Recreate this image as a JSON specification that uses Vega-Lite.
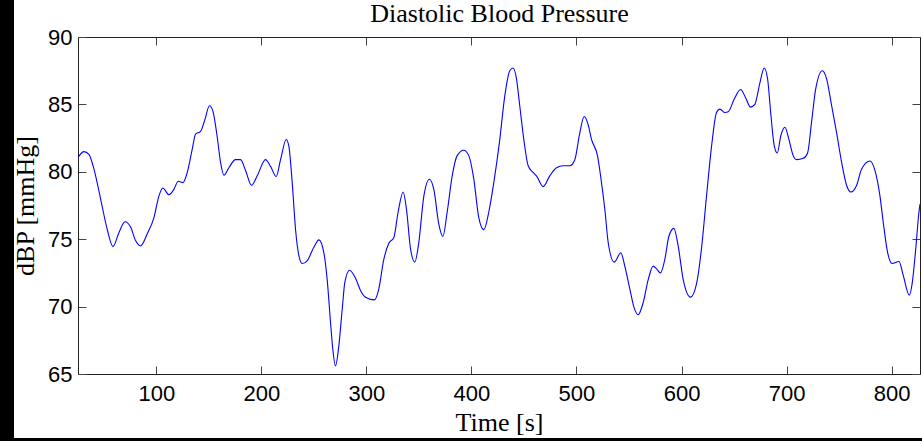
{
  "$schema": "https://vega.github.io/schema/vega-lite/v6.json",
  "width": 842,
  "height": 337,
  "autosize": "none",
  "padding": {"left": 78, "top": 37, "right": 2, "bottom": 67},
  "background": "black",
  "config": {
    "view": {"fill": "white", "stroke": "white", "strokeWidth": 128},
    "axis": {"grid": false, "domainColor": "#222", "domainWidth": 1, "tickColor": "#444", "tickWidth": 1, "tickSize": -8, "labelFont": "Liberation Sans", "labelFontSize": 22, "labelColor": "#000", "labelFlush": false, "titleFont": "Liberation Serif", "titleFontSize": 26, "titleFontWeight": "normal", "titleColor": "#000"}
  },
  "data": {"values": [
    {"t":25.8,"bp":81.1},{"t":31.2,"bp":81.5},{"t":35.9,"bp":81.3},{"t":40.7,"bp":80.2},{"t":47,"bp":78.0},{"t":53.4,"bp":75.7},{"t":58.8,"bp":74.45},{"t":64.5,"bp":75.5},{"t":70.2,"bp":76.3},{"t":75.6,"bp":75.9},{"t":80.3,"bp":74.9},{"t":85.1,"bp":74.5},{"t":91.4,"bp":75.4},{"t":97.8,"bp":76.6},{"t":102.5,"bp":78.2},{"t":106.3,"bp":78.8},{"t":112,"bp":78.3},{"t":116.8,"bp":78.7},{"t":120.9,"bp":79.3},{"t":125.4,"bp":79.2},{"t":129.5,"bp":79.95},{"t":134.3,"bp":81.7},{"t":137.4,"bp":82.8},{"t":142.2,"bp":83.0},{"t":146,"bp":83.8},{"t":150.7,"bp":84.9},{"t":153.9,"bp":84.5},{"t":158,"bp":82.6},{"t":161.2,"bp":80.7},{"t":164.4,"bp":79.75},{"t":169.1,"bp":80.3},{"t":175.5,"bp":80.9},{"t":180.2,"bp":80.9},{"t":185,"bp":80.1},{"t":190.7,"bp":79.0},{"t":196.1,"bp":79.7},{"t":204,"bp":80.9},{"t":208.8,"bp":80.4},{"t":214.2,"bp":79.65},{"t":218.3,"bp":80.9},{"t":223.7,"bp":82.4},{"t":226.2,"bp":81.9},{"t":229.4,"bp":79.2},{"t":232.6,"bp":75.7},{"t":235.7,"bp":73.8},{"t":238.9,"bp":73.2},{"t":243.6,"bp":73.4},{"t":250,"bp":74.4},{"t":254.8,"bp":74.95},{"t":259.5,"bp":74.0},{"t":262.7,"bp":72.0},{"t":265.9,"bp":68.8},{"t":268.1,"bp":66.8},{"t":270.6,"bp":65.6},{"t":273.8,"bp":67.1},{"t":277,"bp":69.8},{"t":279.5,"bp":71.8},{"t":284,"bp":72.7},{"t":289.7,"bp":72.1},{"t":294.4,"bp":71.2},{"t":299.2,"bp":70.7},{"t":307.7,"bp":70.5},{"t":311.8,"bp":71.3},{"t":316.6,"bp":73.5},{"t":321.4,"bp":74.7},{"t":326.1,"bp":75.1},{"t":330.2,"bp":77.0},{"t":335,"bp":78.5},{"t":338.2,"bp":77.2},{"t":342,"bp":74.3},{"t":346.1,"bp":73.3},{"t":349.9,"bp":74.75},{"t":354.7,"bp":78.2},{"t":360.1,"bp":79.45},{"t":364.2,"bp":78.7},{"t":369,"bp":76.1},{"t":372.8,"bp":75.2},{"t":376.9,"bp":77.0},{"t":381.7,"bp":79.7},{"t":386.4,"bp":81.2},{"t":392.7,"bp":81.6},{"t":397.5,"bp":81.2},{"t":402.2,"bp":79.5},{"t":407,"bp":76.6},{"t":411.8,"bp":75.7},{"t":416.5,"bp":77.0},{"t":421.3,"bp":79.2},{"t":426.7,"bp":82.2},{"t":431.7,"bp":85.6},{"t":436.5,"bp":87.5},{"t":439.7,"bp":87.7},{"t":442.9,"bp":86.9},{"t":446,"bp":84.9},{"t":450.2,"bp":82.2},{"t":454,"bp":80.45},{"t":458.7,"bp":79.95},{"t":461.9,"bp":79.7},{"t":468.3,"bp":78.9},{"t":474.6,"bp":79.7},{"t":481,"bp":80.3},{"t":487.3,"bp":80.45},{"t":493.7,"bp":80.45},{"t":498.4,"bp":80.9},{"t":503.2,"bp":82.9},{"t":507.3,"bp":84.1},{"t":511.1,"bp":83.5},{"t":514.3,"bp":82.4},{"t":520,"bp":81.2},{"t":523.8,"bp":79.2},{"t":527,"bp":77.2},{"t":530.2,"bp":74.75},{"t":535.9,"bp":73.3},{"t":542.2,"bp":74.0},{"t":546,"bp":73.0},{"t":550.8,"bp":71.3},{"t":554.9,"bp":69.9},{"t":558.7,"bp":69.4},{"t":563.5,"bp":70.3},{"t":568.3,"bp":72.0},{"t":573,"bp":73.0},{"t":576.2,"bp":72.8},{"t":580,"bp":72.5},{"t":584.1,"bp":73.5},{"t":587.9,"bp":75.2},{"t":592.7,"bp":75.8},{"t":596.8,"bp":74.5},{"t":601.6,"bp":72.0},{"t":608.6,"bp":70.7},{"t":614.3,"bp":71.7},{"t":619,"bp":74.3},{"t":623.8,"bp":78.2},{"t":628.6,"bp":81.9},{"t":633.3,"bp":84.4},{"t":636.5,"bp":84.65},{"t":641.3,"bp":84.4},{"t":644.4,"bp":84.45},{"t":650.2,"bp":85.4},{"t":656.2,"bp":86.1},{"t":661,"bp":85.5},{"t":665.7,"bp":84.8},{"t":669.8,"bp":85.0},{"t":674.6,"bp":86.6},{"t":678.7,"bp":87.7},{"t":681.9,"bp":86.9},{"t":685.1,"bp":84.2},{"t":688.3,"bp":81.9},{"t":691.1,"bp":81.4},{"t":694.6,"bp":82.7},{"t":698.4,"bp":83.3},{"t":702.2,"bp":82.4},{"t":706.3,"bp":81.2},{"t":709.5,"bp":80.9},{"t":715.9,"bp":81.0},{"t":720,"bp":81.4},{"t":723.8,"bp":83.7},{"t":727.6,"bp":86.1},{"t":734,"bp":87.5},{"t":738.1,"bp":86.9},{"t":742.9,"bp":84.9},{"t":747.6,"bp":82.9},{"t":752.4,"bp":80.7},{"t":757.1,"bp":79.0},{"t":761.3,"bp":78.5},{"t":766.7,"bp":79.0},{"t":771.4,"bp":80.2},{"t":779.4,"bp":80.8},{"t":784.1,"bp":80.1},{"t":788.9,"bp":78.2},{"t":792.1,"bp":76.2},{"t":796.2,"bp":74.0},{"t":800.6,"bp":73.2},{"t":807,"bp":73.35},{"t":811.1,"bp":72.3},{"t":816.8,"bp":70.85},{"t":819.7,"bp":71.8},{"t":822.9,"bp":74.25},{"t":826,"bp":77.0},{"t":827,"bp":77.6}
  ]},
  "layer": [
    {
      "mark": {"type": "line", "color": "#0000ff", "strokeWidth": 1.1, "interpolate": "monotone", "clip": true},
      "encoding": {
        "x": {"field": "t", "type": "quantitative", "scale": {"domain": [25.5, 827], "nice": false, "zero": false}, "axis": {"orient": "bottom", "values": [100,200,300,400,500,600,700,800], "labelPadding": 17, "title": "Time [s]", "titlePadding": 5}},
        "y": {"field": "bp", "type": "quantitative", "scale": {"domain": [65, 90], "nice": false, "zero": false}, "axis": {"orient": "left", "values": [65,70,75,80,85,90], "labelPadding": 14, "title": "dBP [mmHg]", "titlePadding": 9}}
      }
    },
    {
      "mark": {"type": "line", "strokeOpacity": 0, "interpolate": "monotone"},
      "encoding": {
        "x": {"field": "t", "type": "quantitative", "axis": {"orient": "top", "values": [100,200,300,400,500,600,700,800], "labels": false, "title": "Diastolic Blood Pressure", "titleFontSize": 26, "titleBaseline": "alphabetic", "titlePadding": 15}},
        "y": {"field": "bp", "type": "quantitative", "axis": {"orient": "right", "values": [65,70,75,80,85,90], "labels": false, "title": null}}
      }
    }
  ],
  "resolve": {"axis": {"x": "independent", "y": "independent"}}
}
